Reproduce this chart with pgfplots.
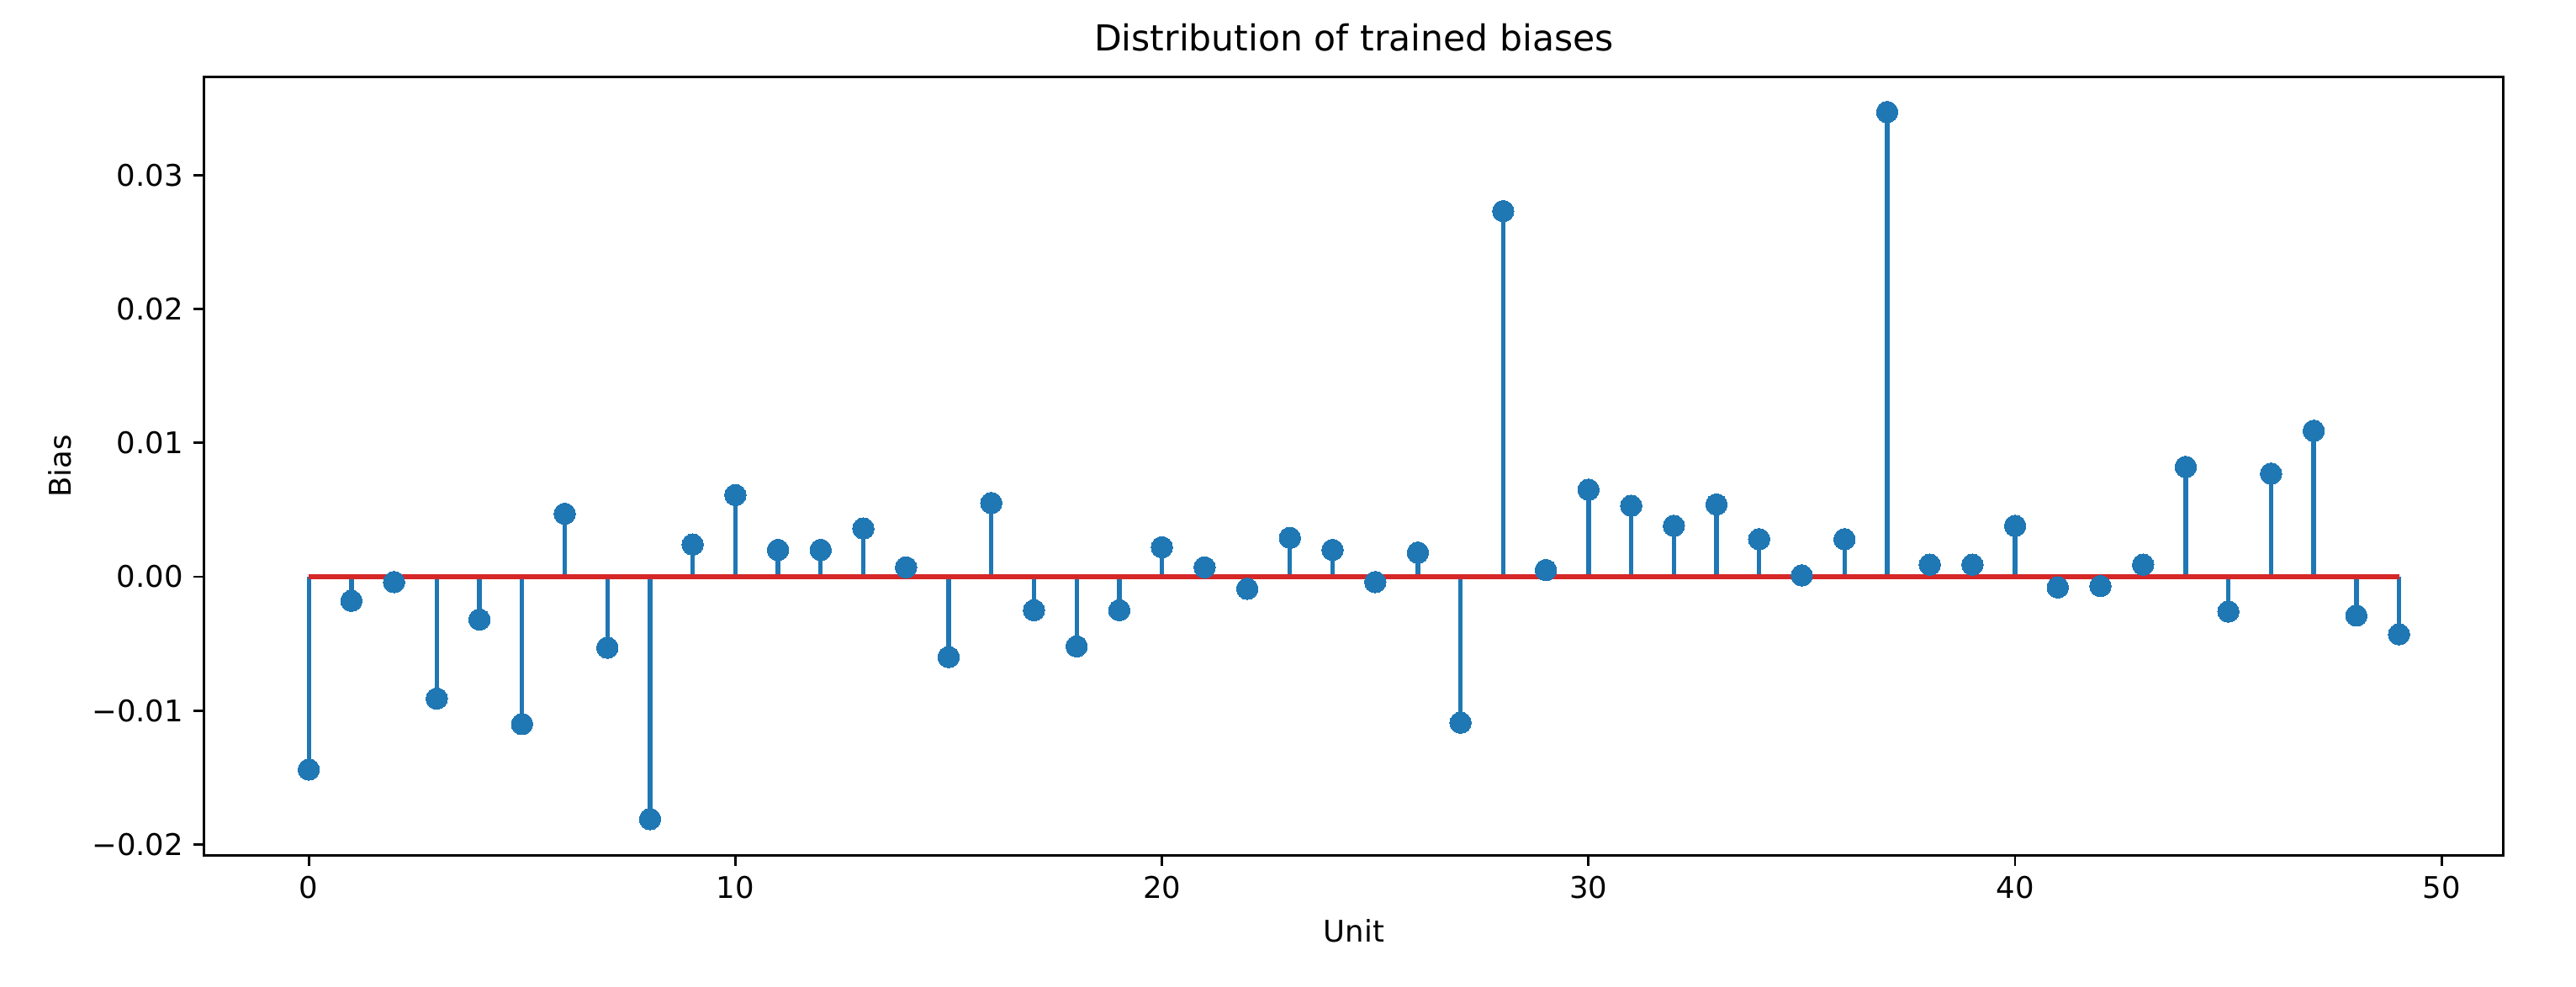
\documentclass[border=0pt]{standalone}
\usepackage{fontspec}
\setmainfont{DejaVu Sans}
\usepackage{pgfplots}
\pgfplotsset{compat=1.18}
\definecolor{c0}{HTML}{1F77B4}
\definecolor{c3}{HTML}{D62728}
\begin{document}
\begin{tikzpicture}
\begin{axis}[
    name=ax,
    scale only axis,
    width=771pt, height=261pt,
    xmin=-2.45, xmax=51.45,
    ymin=-0.0208, ymax=0.0373,
    scaled y ticks=false,
    axis line style={line width=0.8pt},
    tick style={line width=0.8pt, black},
    tick align=outside,
    major tick length=3.5pt,
    xtick pos=left, ytick pos=left,
    xtick={0,10,20,30,40,50},
    xticklabels={0,10,20,30,40,50},
    ytick={-0.02,-0.01,0,0.01,0.02,0.03},
    yticklabels={−0.02,−0.01,0.00,0.01,0.02,0.03},
    tick label style={font=\fontsize{10}{12}\selectfont},
    label style={font=\fontsize{10}{12}\selectfont},
    title style={font=\fontsize{12}{14}\selectfont, yshift=-1pt},
    title={Distribution of trained biases},
    xlabel={Unit},
    ylabel={Bias},
    clip=false,
]
\addplot[ycomb, color=c0, line width=1.5pt, mark=*, mark size=3.6pt,
    mark options={draw=c0, fill=c0, line width=0pt}]
    coordinates {
    (0,-0.0144)(1,-0.0018)(2,-0.0004)(3,-0.0091)(4,-0.0032)
    (5,-0.0110)(6,0.0047)(7,-0.0053)(8,-0.0181)(9,0.0024)
    (10,0.0061)(11,0.0020)(12,0.0020)(13,0.0036)(14,0.0007)
    (15,-0.0060)(16,0.0055)(17,-0.0025)(18,-0.0052)(19,-0.0025)
    (20,0.0022)(21,0.0007)(22,-0.0009)(23,0.0029)(24,0.0020)
    (25,-0.0004)(26,0.0018)(27,-0.0109)(28,0.0273)(29,0.0005)
    (30,0.0065)(31,0.0053)(32,0.0038)(33,0.0054)(34,0.0028)
    (35,0.0001)(36,0.0028)(37,0.0347)(38,0.0009)(39,0.0009)
    (40,0.0038)(41,-0.0008)(42,-0.0007)(43,0.0009)(44,0.0082)
    (45,-0.0026)(46,0.0077)(47,0.0109)(48,-0.0029)(49,-0.0043)
    };
\addplot[color=c3, line width=1.5pt, no marks] coordinates {(0,0)(49,0)};
\end{axis}
\path ([xshift=-68.5pt,yshift=-44pt]ax.south west) rectangle ([xshift=24.3pt,yshift=25.9pt]ax.north east);
\end{tikzpicture}
\end{document}
